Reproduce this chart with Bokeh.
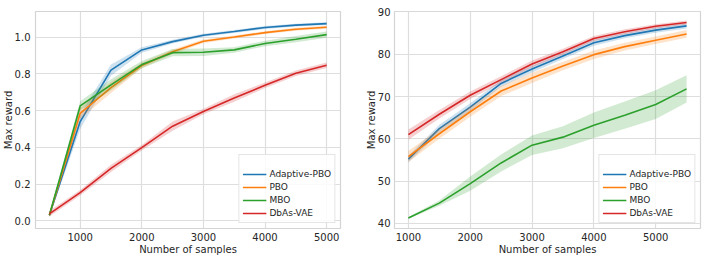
from bokeh.plotting import figure
from bokeh.layouts import row
from bokeh.models import Range1d, Legend, LegendItem, FixedTicker, NumeralTickFormatter
from bokeh.embed import file_html
from bokeh.resources import INLINE

# ---- data: left panel ----
x1 = [500, 1000, 1500, 2000, 2500, 3000, 3500, 4000, 4500, 5000]
apbo1 = [0.03, 0.54, 0.82, 0.93, 0.975, 1.01, 1.03, 1.052, 1.065, 1.073]
apbo1_err = [0.01, 0.04, 0.03, 0.015, 0.01, 0.008, 0.008, 0.008, 0.008, 0.008]
pbo1 = [0.03, 0.585, 0.725, 0.845, 0.92, 0.977, 1.0, 1.024, 1.042, 1.053]
pbo1_err = [0.01, 0.03, 0.03, 0.015, 0.012, 0.01, 0.008, 0.008, 0.008, 0.008]
mbo1 = [0.03, 0.625, 0.74, 0.85, 0.915, 0.917, 0.93, 0.965, 0.988, 1.013]
mbo1_err = [0.01, 0.025, 0.03, 0.02, 0.02, 0.02, 0.015, 0.015, 0.017, 0.017]
dbas1 = [0.038, 0.153, 0.285, 0.398, 0.515, 0.595, 0.668, 0.737, 0.803, 0.847]
dbas1_err = [0.015, 0.015, 0.02, 0.015, 0.025, 0.015, 0.02, 0.015, 0.015, 0.015]

# ---- data: right panel ----
x2 = [1000, 1500, 2000, 2500, 3000, 3500, 4000, 4500, 5000, 5500]
apbo2 = [55.2, 62.4, 67.5, 73.1, 76.5, 79.6, 82.7, 84.4, 85.7, 86.7]
apbo2_err = [0.8, 0.9, 0.9, 0.8, 0.8, 0.7, 0.7, 0.6, 0.6, 0.6]
pbo2 = [55.8, 61.2, 66.4, 71.3, 74.4, 77.2, 79.9, 81.8, 83.3, 84.8]
pbo2_err = [1.3, 1.2, 1.2, 1.2, 1.2, 1.0, 1.0, 0.9, 0.9, 0.9]
mbo2 = [41.3, 44.8, 49.4, 54.3, 58.5, 60.4, 63.2, 65.6, 68.1, 71.8]
mbo2_err = [0.2, 0.6, 1.7, 2.0, 2.3, 2.6, 3.0, 3.2, 3.4, 3.2]
dbas2 = [61.0, 65.8, 70.3, 74.0, 77.7, 80.6, 83.7, 85.3, 86.6, 87.5]
dbas2_err = [1.2, 1.0, 0.9, 0.8, 0.8, 0.7, 0.6, 0.6, 0.5, 0.5]

names = ["Adaptive-PBO", "PBO", "MBO", "DbAs-VAE"]
colors = ["#1f77b4", "#ff7f0e", "#2ca02c", "#d62728"]

x1_ticks = [1000, 2000, 3000, 4000, 5000]
y1_ticks = [0.0, 0.2, 0.4, 0.6, 0.8, 1.0]
x2_ticks = [1000, 2000, 3000, 4000, 5000]
y2_ticks = [40, 50, 60, 70, 80, 90]

FONT = "DejaVu Sans"
TXT = "#262626"
GRID = "#dedede"


def make_fig(x, series, errs, xr, yr, xt, yt, yfmt, bl, br, width, ystand):
    p = figure(width=width, height=263, output_backend="svg", toolbar_location=None,
               x_range=Range1d(*xr), y_range=Range1d(*yr),
               min_border_left=bl, min_border_right=br, min_border_top=11, min_border_bottom=35)
    p.background_fill_color = "white"
    p.outline_line_color = "#d4d4d4"
    p.outline_line_width = 1.2
    items = []
    for name, c, ys, es in zip(names, colors, series, errs):
        lo = [m - e for m, e in zip(ys, es)]
        hi = [m + e for m, e in zip(ys, es)]
        p.varea(x=x, y1=lo, y2=hi, fill_color=c, fill_alpha=0.22)
        r = p.line(x, ys, line_color=c, line_width=1.6)
        items.append(LegendItem(label=name, renderers=[r]))
    for ax in (p.xaxis[0], p.yaxis[0]):
        ax.axis_line_color = None
        ax.major_tick_line_color = None
        ax.minor_tick_line_color = None
        ax.major_tick_out = 0
        ax.major_tick_in = 0
        ax.minor_tick_out = 0
        ax.minor_tick_in = 0
        ax.major_label_text_font = FONT
        ax.major_label_text_font_size = "10px"
        ax.major_label_text_color = TXT
        ax.axis_label_text_font = FONT
        ax.axis_label_text_font_size = "10px"
        ax.axis_label_text_font_style = "normal"
        ax.axis_label_text_color = TXT
        ax.major_label_standoff = 4
        ax.axis_label_standoff = 0
    p.yaxis[0].major_label_standoff = ystand
    p.yaxis[0].axis_label_standoff = -2
    p.xaxis[0].ticker = FixedTicker(ticks=xt)
    p.yaxis[0].ticker = FixedTicker(ticks=yt)
    if yfmt:
        p.yaxis[0].formatter = NumeralTickFormatter(format=yfmt)
    p.xaxis[0].axis_label = "Number of samples"
    p.yaxis[0].axis_label = "Max reward"
    p.xgrid.grid_line_color = GRID
    p.ygrid.grid_line_color = GRID
    p.xgrid.grid_line_width = 1.2
    p.ygrid.grid_line_width = 1.2
    leg = Legend(items=items, location="bottom_right", margin=5,
                 label_text_font=FONT, label_text_font_size="9px", label_text_color=TXT,
                 glyph_width=24, glyph_height=12, label_height=12, label_standoff=3,
                 spacing=1, padding=3,
                 title=" ", title_text_font_size="6px", title_standoff=4,
                 border_line_color="#cccccc", border_line_width=1,
                 background_fill_color="white", background_fill_alpha=0.85)
    p.add_layout(leg, "center")
    return p


p1 = make_fig(x1, [apbo1, pbo1, mbo1, dbas1], [apbo1_err, pbo1_err, mbo1_err, dbas1_err],
              (275, 5225), (-0.042, 1.139), x1_ticks, y1_ticks, "0.0", 39, 21, 365, 5)
p2 = make_fig(x2, [apbo2, pbo2, mbo2, dbas2], [apbo2_err, pbo2_err, mbo2_err, dbas2_err],
              (775, 5725), (38.8, 90.1), x2_ticks, y2_ticks, None, 33, 6, 345, 4)

layout = row(p1, p2, margin=(0, 0, 0, -4))

with open("out.html", "w") as f:
    f.write(file_html(layout, INLINE))
